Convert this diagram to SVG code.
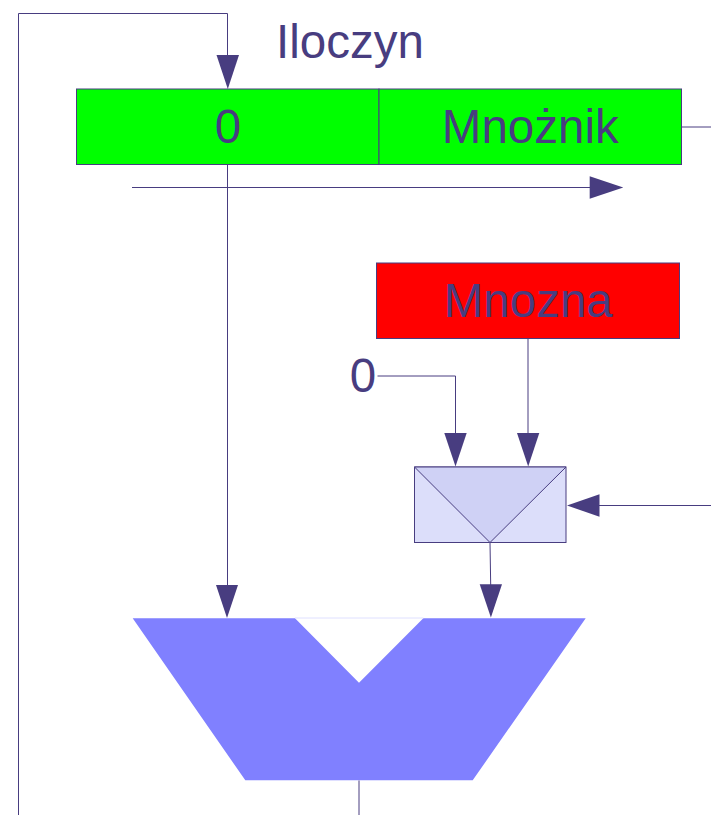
<svg xmlns="http://www.w3.org/2000/svg" width="711" height="815" viewBox="0 0 711 815">
<style>
text{font-family:"Liberation Sans",Arial,sans-serif;fill:#483d80;font-size:47.500px;text-anchor:middle}
.l{fill:none;stroke:#483d80;stroke-width:1}
.a{fill:#483d80}
.b{stroke:#483d80;stroke-width:1}
</style>
<rect width="711" height="815" fill="#fff"/>
<g id="iloczyn"><text x="350" y="58">Iloczyn</text></g>
<g id="rejestr-0"><rect class="b" x="76.500" y="89" width="302.500" height="75.500" fill="#00ff00"/><text x="228" y="143">0</text></g>
<g id="mnoznik"><rect class="b" x="379" y="89" width="302.500" height="75.500" fill="#00ff00"/><text x="530.300" y="143">Mnożnik</text></g>
<g id="mnozna"><rect class="b" x="376.500" y="263" width="303" height="75.500" fill="#ff0000"/><text x="528.300" y="317">Mnozna</text></g>
<g id="zero"><text x="363" y="392">0</text></g>
<g id="mux"><rect class="b" x="414.500" y="467" width="151.500" height="75.500" fill="#dcdefa"/><polygon class="b" points="414.500,467 566,467 490,542.500" fill="#cfd1f5"/></g>
<g id="alu"><polygon points="132.700,618.300 295,618.300 359,682.700 423.300,618.300 585.700,618.300 472.700,780.300 245.300,780.300" fill="#8080ff"/><path d="M295 618H423.300" stroke="#dfe0ff" stroke-width="1" fill="none"/></g>
<g id="connectors">
<path class="l" d="M18.500 815V13.500H227.500V56"/><polygon class="a" points="216.500,55 239,55 227.800,89"/>
<path class="l" d="M681.500 127H711"/>
<path class="l" d="M132 187.500H590"/><polygon class="a" points="589.700,176.300 623.300,187.500 589.700,198.700"/>
<path class="l" d="M227.500 164.500V585"/><polygon class="a" points="216,585 238,585 227,618"/>
<path class="l" d="M528 338.500V434"/><polygon class="a" points="517,433 539.300,433 528.200,466.500"/>
<path class="l" d="M377.500 376H455.500V434"/><polygon class="a" points="444.300,433 466.700,433 455.500,466.500"/>
<path class="l" d="M711 505.500H599"/><polygon class="a" points="599.500,494.300 599.500,516.700 567,505.500"/>
<path class="l" d="M490 542.500L490.700 585"/><polygon class="a" points="479.700,584.300 502,584.300 490.900,617.500"/>
<path class="l" d="M359 780.500V815"/>
</g>
</svg>
